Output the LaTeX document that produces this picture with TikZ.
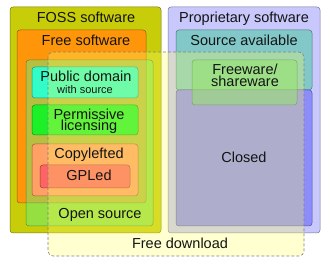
\documentclass[tikz,border=0pt]{standalone}
\usepackage{fontspec}
\setmainfont{Liberation Sans}
\definecolor{fossC}{RGB}{200,205,10}
\definecolor{freeC}{RGB}{255,150,10}
\definecolor{openC}{RGB}{75,252,145}
\definecolor{pdC}{RGB}{50,252,200}
\definecolor{permC}{RGB}{30,240,40}
\definecolor{copyC}{RGB}{255,160,100}
\definecolor{gplC}{RGB}{255,100,100}
\definecolor{propC}{RGB}{200,200,252}
\definecolor{srcC}{RGB}{130,200,200}
\definecolor{closedC}{RGB}{140,140,250}
\definecolor{fwC}{RGB}{100,220,100}
\definecolor{dlC}{RGB}{255,255,100}
\definecolor{txt}{RGB}{20,20,20}
\begin{document}
\begin{tikzpicture}[x=1pt,y=-1pt,
  box/.style={rounded corners=3pt, line width=0.5pt},
  lbl/.style={font=\fontsize{14.5}{14.5}\selectfont, text=txt, inner sep=0pt, anchor=base},
  twoline/.style={font=\fontsize{14.5}{11.3}\selectfont, text=txt, inner sep=0pt, align=center, anchor=center},
  small/.style={font=\fontsize{11}{11}\selectfont, text=txt, inner sep=0pt, anchor=base}]
\useasboundingbox (0,0) rectangle (330,264);
\fill[white] (0,0) rectangle (330,264);
% FOSS side
\draw[box, fill=fossC, draw=fossC!60!black] (10,7) rectangle (161,233);
\draw[box, fill=freeC, draw=freeC!60!black] (17,30) rectangle (146,203);
\draw[box, fill=openC, fill opacity=0.4, draw=openC!40!black, draw opacity=0.6] (26,60) rectangle (153,226);
\draw[box, fill=pdC, draw=pdC!60!black] (32,67) rectangle (138,98);
\draw[box, fill=permC, draw=permC!60!black] (32,105) rectangle (138,135);
\draw[box, fill=copyC, draw=copyC!60!black] (32,144) rectangle (138,196);
\draw[box, fill=gplC, draw=gplC!60!black] (40,165) rectangle (130,188);
% Proprietary side
\draw[box, fill=propC, draw=propC!60!black] (168,7) rectangle (320,233);
\draw[box, fill=srcC, draw=srcC!60!black] (176,30) rectangle (312,90);
\draw[box, fill=closedC, draw=closedC!60!black] (176,90) rectangle (312,226);
\draw[box, fill=fwC, fill opacity=0.5, draw=fwC!40!black, draw opacity=0.6] (192,60) rectangle (297,105);
% Free download overlay
\draw[box, rounded corners=5pt, fill=dlC, fill opacity=0.3, draw=gray, dash pattern=on 3pt off 2pt, line width=0.6pt] (48,52) rectangle (304,256);
% Labels
\node[lbl] (foss) at (86,23) {FOSS software};
\node[lbl] (prop) at (244,23) {Proprietary software};
\node[lbl] (free) at (86,46) {Free software};
\node[lbl] (src) at (244,46) {Source available};
\node[lbl] (pd) at (86,82) {Public domain};
\node[small] (pds) at (85,93.5) {with source};
\node[twoline] (fw) at (245,75.2) {Freeware/\\shareware};
\node[twoline] (perm) at (89,121.4) {Permissive\\licensing};
\node[lbl] (copy) at (89,159) {Copylefted};
\node[lbl] (gpl) at (89,181) {GPLed};
\node[lbl] (open) at (100,219) {Open source};
\node[lbl] (closed) at (244,163) {Closed};
\node[lbl] (dl) at (180,249) {Free download};
\end{tikzpicture}
\end{document}
